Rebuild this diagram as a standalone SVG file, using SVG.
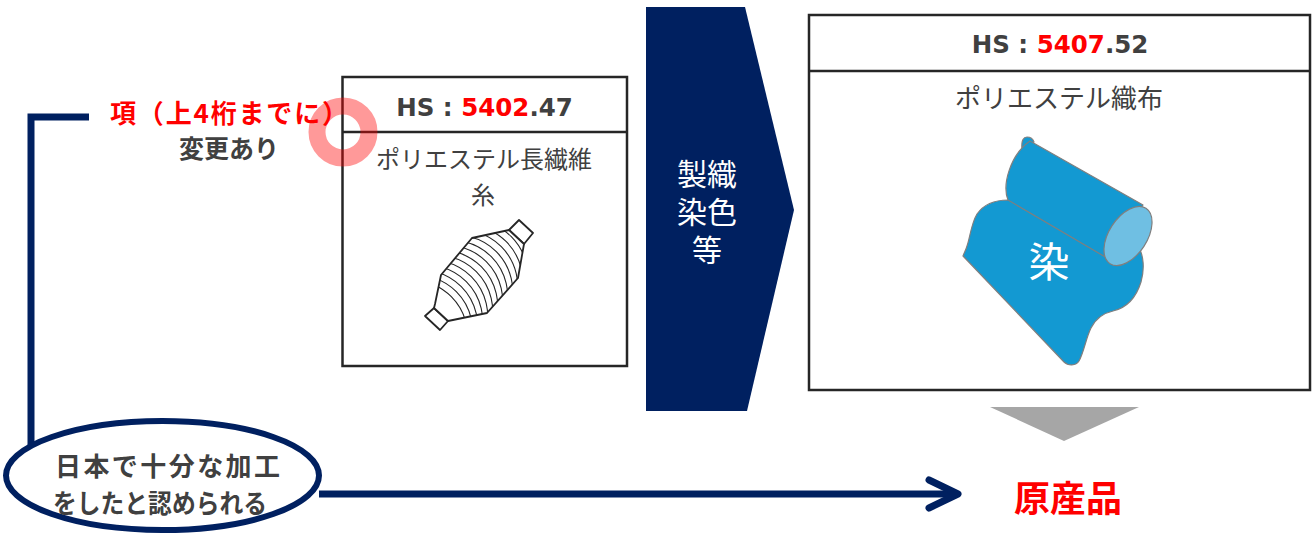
<svg xmlns="http://www.w3.org/2000/svg" width="1313" height="539" viewBox="0 0 1313 539">
  <style>
    .jp { font-family: "Noto Sans CJK JP", "Noto Sans", sans-serif; }
    .hs { font-family: "DejaVu Sans", "Liberation Sans", sans-serif; font-weight: bold; font-size: 24.5px; fill: #404040; }
    .red { fill: #ff0000; }
    .gray { fill: #404040; }
    .box { fill: #ffffff; stroke: #262626; stroke-width: 2.5; }
    .navy { stroke: #002060; fill: none; stroke-width: 7; }
    .cloth { fill: #1399d2; stroke: #7f7f7f; stroke-width: 1.2; stroke-linejoin: round; }
    .wind { fill: none; stroke: #262626; stroke-width: 1.1; }
  </style>
  <defs>
    <clipPath id="bobbinBody">
      <polygon points="509,230 472,238 441,275 435,304 434,308 448,321 487,313 518,278 524,244"/>
    </clipPath>
    <!-- one winding of thread, repeated along the spool -->
    <path id="coil" d="M -34 -34 A 56 56 0 0 1 34 34"/>
  </defs>

  <rect width="1313" height="539" fill="#ffffff"/>

  <!-- connectors -->
  <g id="connectors">
    <path class="navy" d="M 89 117 H 31 V 446" stroke-linejoin="miter"/>
    <line class="navy" x1="319" y1="494" x2="957" y2="494"/>
    <path class="navy" d="M 929 480 L 958 494 L 929 508" stroke-linecap="round" stroke-linejoin="round"/>
  </g>

  <!-- note label -->
  <g id="note">
    <text class="jp red" x="110" y="123" font-size="26" font-weight="bold" textLength="238" lengthAdjust="spacing">項（上4桁までに）</text>
    <text class="jp gray" x="229" y="158" font-size="25" font-weight="bold" text-anchor="middle">変更あり</text>
  </g>

  <!-- yarn box -->
  <g id="yarn">
    <rect class="box" x="342.5" y="77" width="284.5" height="289"/>
    <line x1="342.5" y1="132" x2="627" y2="132" stroke="#262626" stroke-width="2.5"/>
    <text class="hs" x="484.5" y="116" text-anchor="middle">HS : <tspan class="red">5402</tspan>.47</text>
    <text class="jp" x="484" y="168" font-size="24" fill="#404040" text-anchor="middle">ポリエステル長繊維</text>
    <text class="jp" x="483" y="204" font-size="24" fill="#404040" text-anchor="middle">糸</text>
    <!-- bobbin -->
    <g stroke="#262626" stroke-width="1.8" fill="#ffffff" stroke-linejoin="round">
      <polygon points="509,230 519,220 533,233 524,244"/>
      <polygon points="434,308 425,316 440,330 448,321"/>
      <polygon points="509,230 472,238 441,275 435,304 434,308 448,321 487,313 518,278 524,244"/>
    </g>
    <g clip-path="url(#bobbinBody)" class="wind">
      <use href="#coil" x="432" y="316"/>
      <use href="#coil" x="437" y="311"/>
      <use href="#coil" x="442" y="306"/>
      <use href="#coil" x="447" y="301"/>
      <use href="#coil" x="452" y="296"/>
      <use href="#coil" x="457" y="291"/>
      <use href="#coil" x="462" y="286"/>
      <use href="#coil" x="467" y="281"/>
      <use href="#coil" x="472" y="276"/>
      <use href="#coil" x="477" y="271"/>
      <use href="#coil" x="482" y="266"/>
      <use href="#coil" x="487" y="261"/>
      <use href="#coil" x="492" y="256"/>
      <use href="#coil" x="497" y="251"/>
    </g>
  </g>

  <!-- highlight ring -->
  <circle cx="343" cy="132" r="26" fill="none" stroke="#ff0000" stroke-opacity="0.4" stroke-width="17"/>

  <!-- process arrow -->
  <g id="process">
    <polygon points="646,7 745,7 794,210 747,411 646,411" fill="#002060"/>
    <g class="jp" font-size="30" fill="#ffffff" text-anchor="middle">
      <text x="707" y="185">製織</text>
      <text x="707" y="223">染色</text>
      <text x="707" y="261">等</text>
    </g>
  </g>

  <!-- fabric box -->
  <g id="fabric">
    <rect class="box" x="809" y="15" width="501" height="375"/>
    <line x1="809" y1="71" x2="1310" y2="71" stroke="#262626" stroke-width="2.5"/>
    <text class="hs" x="1060" y="53" text-anchor="middle">HS : <tspan class="red">5407</tspan>.52</text>
    <text class="jp" x="1059" y="108" font-size="26" fill="#404040" text-anchor="middle">ポリエステル織布</text>
    <!-- cloth roll -->
    <path class="cloth" d="M 1022 149 C 1021 140 1024 137 1027 137 C 1030 137 1033 139 1034 142 Z"/>
    <path class="cloth" d="M 1008 200 C 996 200 984 204 977 214 C 971 224 970 238 967 246 C 966 250 964 253 963 256
      L 1064 362 C 1068 366 1076 366 1079 361 C 1084 352 1086 338 1091 328 C 1096 318 1104 313 1113 311
      C 1126 308 1136 298 1141 282 C 1145 268 1143 256 1140 250 L 1110 240 Z"/>
    <path class="cloth" d="M 1030 141 L 1143 205 L 1107 258 L 1008 200 C 1002 185 1010 155 1030 141 Z"/>
    <ellipse cx="1128" cy="236" rx="33" ry="19" transform="rotate(-57 1128 236)" fill="#6fbfe3" stroke="#7f7f7f" stroke-width="1.2"/>
    <text class="jp" x="1049" y="277" font-size="41" fill="#ffffff" text-anchor="middle">染</text>
  </g>

  <!-- result marker -->
  <g id="down-arrow">
    <polygon points="990,407 1139,407 1064,441" fill="#a6a6a6"/>
  </g>

  <!-- condition ellipse -->
  <g id="condition">
    <ellipse cx="162.5" cy="475.5" rx="156.5" ry="54.5" fill="#ffffff" stroke="#002060" stroke-width="6"/>
    <text class="jp gray" x="167.5" y="476" font-size="26" font-weight="bold" text-anchor="middle" textLength="225" lengthAdjust="spacing">日本で十分な加工</text>
    <text class="jp gray" x="160" y="513" font-size="26" font-weight="bold" text-anchor="middle" textLength="214" lengthAdjust="spacingAndGlyphs">をしたと認められる</text>
  </g>

  <!-- result -->
  <g id="origin">
    <text class="jp red" x="1068" y="512" font-size="36" font-weight="bold" text-anchor="middle">原産品</text>
  </g>
</svg>
